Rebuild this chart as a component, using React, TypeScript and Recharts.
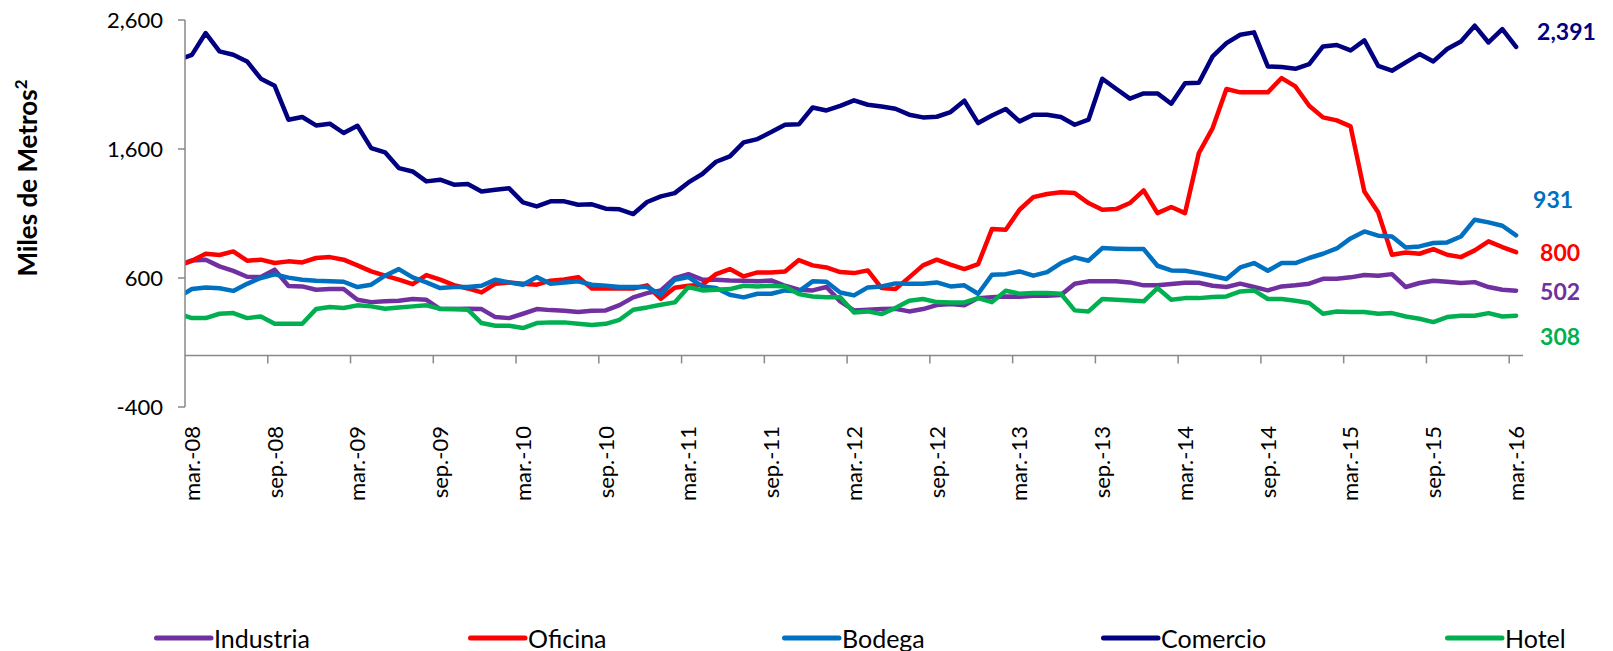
import React from "react";
import { LineChart, Line, XAxis, YAxis, ReferenceLine, Legend, LabelList } from "recharts";

const categories = [
  "feb.-08", "mar.-08", "abr.-08", "may.-08", "jun.-08", "jul.-08", "ago.-08", "sep.-08", "oct.-08", "nov.-08", "dic.-08",
  "ene.-09", "feb.-09", "mar.-09", "abr.-09", "may.-09", "jun.-09", "jul.-09", "ago.-09", "sep.-09", "oct.-09", "nov.-09", "dic.-09",
  "ene.-10", "feb.-10", "mar.-10", "abr.-10", "may.-10", "jun.-10", "jul.-10", "ago.-10", "sep.-10", "oct.-10", "nov.-10", "dic.-10",
  "ene.-11", "feb.-11", "mar.-11", "abr.-11", "may.-11", "jun.-11", "jul.-11", "ago.-11", "sep.-11", "oct.-11", "nov.-11", "dic.-11",
  "ene.-12", "feb.-12", "mar.-12", "abr.-12", "may.-12", "jun.-12", "jul.-12", "ago.-12", "sep.-12", "oct.-12", "nov.-12", "dic.-12",
  "ene.-13", "feb.-13", "mar.-13", "abr.-13", "may.-13", "jun.-13", "jul.-13", "ago.-13", "sep.-13", "oct.-13", "nov.-13", "dic.-13",
  "ene.-14", "feb.-14", "mar.-14", "abr.-14", "may.-14", "jun.-14", "jul.-14", "ago.-14", "sep.-14", "oct.-14", "nov.-14", "dic.-14",
  "ene.-15", "feb.-15", "mar.-15", "abr.-15", "may.-15", "jun.-15", "jul.-15", "ago.-15", "sep.-15", "oct.-15", "nov.-15", "dic.-15",
  "ene.-16", "feb.-16", "mar.-16",
];

// values start at feb.-08 (clipped before the axis), then mar.-08 ... mar.-16
const industria = [
  700, 736, 742, 690, 655, 610, 607, 665, 538, 535, 509, 514, 514, 431, 413, 419, 424, 437, 431, 359,
  359, 362, 359, 297, 289, 323, 359, 351, 346, 336, 346, 349, 390, 450, 483, 504, 599, 630, 587, 587,
  581, 579, 574, 581, 540, 509, 504, 530, 419, 349, 354, 359, 362, 341, 359, 390, 398, 388, 444, 450,
  457, 455, 463, 463, 468, 556, 574, 574, 574, 566, 543, 543, 553, 563, 563, 540, 530, 556, 530, 504,
  535, 543, 556, 594, 594, 605, 623, 618, 630, 530, 561, 579, 571, 561, 568, 530, 509, 502,
];
const oficina = [
  695, 733, 788, 778, 806, 734, 742, 716, 729, 721, 755, 762, 742, 698, 651, 618, 587, 552, 623, 587,
  545, 519, 488, 556, 566, 556, 548, 579, 589, 607, 519, 519, 519, 519, 543, 439, 525, 540, 548, 630,
  669, 612, 643, 643, 651, 739, 698, 682, 646, 638, 659, 522, 514, 605, 698, 742, 703, 669, 708, 979,
  974, 1129, 1227, 1251, 1264, 1258, 1181, 1129, 1134, 1181, 1279, 1103, 1150, 1103, 1568, 1762, 2065, 2039, 2039, 2039,
  2150, 2085, 1935, 1845, 1822, 1775, 1271, 1109, 780, 798, 788, 824, 780, 762, 814, 884, 840, 800,
];
const bodega = [
  450, 515, 526, 520, 500, 555, 600, 628, 603, 587, 579, 574, 571, 530, 548, 618, 669, 605, 566, 522,
  530, 530, 540, 587, 566, 548, 607, 556, 566, 574, 548, 540, 530, 530, 530, 470, 587, 607, 535, 522,
  470, 450, 478, 478, 504, 496, 574, 571, 488, 465, 527, 535, 558, 556, 556, 566, 535, 543, 478, 625,
  630, 651, 618, 646, 716, 760, 734, 832, 827, 824, 824, 695, 659, 656, 638, 615, 592, 682, 716, 656,
  716, 716, 755, 788, 829, 907, 961, 928, 922, 837, 845, 871, 876, 922, 1052, 1031, 1005, 931,
];
const comercio = [
  2290, 2330, 2499, 2357, 2331, 2279, 2145, 2090, 1827, 1848, 1783, 1796, 1724, 1780, 1607, 1574, 1452, 1426, 1349, 1362,
  1323, 1328, 1271, 1284, 1295, 1186, 1155, 1194, 1194, 1168, 1171, 1137, 1132, 1096, 1189, 1233, 1258, 1341, 1406, 1501,
  1543, 1651, 1677, 1731, 1788, 1791, 1922, 1899, 1935, 1977, 1943, 1930, 1912, 1866, 1845, 1850, 1886, 1974, 1801, 1860,
  1910, 1814, 1866, 1866, 1848, 1788, 1827, 2145, 2067, 1990, 2031, 2031, 1951, 2109, 2114, 2318, 2421, 2486, 2504, 2240,
  2235, 2222, 2258, 2395, 2406, 2364, 2442, 2245, 2207, 2271, 2336, 2279, 2375, 2434, 2556, 2426, 2530, 2391,
];
const hotel = [
  325, 289, 289, 323, 328, 289, 302, 245, 245, 245, 359, 375, 367, 388, 380, 362, 372, 380, 388, 362,
  359, 354, 251, 230, 230, 212, 251, 256, 256, 245, 235, 245, 276, 354, 372, 393, 411, 530, 504, 509,
  514, 540, 535, 540, 535, 475, 457, 450, 450, 333, 341, 320, 367, 424, 437, 413, 411, 411, 444, 413,
  501, 478, 483, 483, 478, 349, 341, 437, 431, 426, 419, 522, 431, 444, 444, 452, 457, 496, 504, 437,
  437, 424, 406, 323, 341, 336, 336, 323, 328, 302, 284, 258, 297, 307, 307, 328, 302, 308,
];

const xTickIndices = [0, 6, 12, 18, 24, 30, 36, 42, 48, 54, 60, 66, 72, 78, 84, 90, 96];
const yTicks = [-400, 600, 1600, 2600];

const series = [
  { key: "Industria", values: industria, color: "#7030A0" },
  { key: "Oficina", values: oficina, color: "#FF0000" },
  { key: "Bodega", values: bodega, color: "#0070C0" },
  { key: "Comercio", values: comercio, color: "#000080" },
  { key: "Hotel", values: hotel, color: "#00B050" },
];

// layout-only tables (offsets of end labels, legend item widths)
const endLabelOffset: Record<string, { dx: number; dy: number }> = {
  Industria: { dx: 24, dy: 1.5 },
  Oficina: { dx: 24, dy: 1 },
  Bodega: { dx: 17, dy: -36 },
  Comercio: { dx: 21, dy: -15.5 },
  Hotel: { dx: 24, dy: 21 },
};
const legendItemWidths = [314, 314, 319, 344, 160];

const data = categories.map((label, k) => {
  const row: Record<string, number | string> = { i: k - 1, label };
  series.forEach((s) => {
    row[s.key] = s.values[k];
  });
  return row;
});

const lastIndex = data.length - 1;
const FONT = "Lato, 'Liberation Sans', sans-serif";
const AXIS_GRAY = "#898989";

const catLabel = (v: number) => categories[v + 1] ?? "";

const XTick = (props: any) => {
  const { x, y, payload } = props;
  return (
    <g transform={`translate(${x},${y})`}>
      <text
        transform="rotate(-90)"
        x={-19}
        y={0}
        dy="0.36em"
        textAnchor="end"
        fill="#000"
        fontSize={22}
        fontFamily={FONT}
      >
        {catLabel(payload.value)}
      </text>
    </g>
  );
};

const YTitle = (props: any) => {
  const vb = props.viewBox || { x: 0, y: 0 };
  const cx = vb.x + 29;
  const cy = vb.y + 158;
  return (
    <text
      x={cx}
      y={cy}
      transform={`rotate(-90, ${cx}, ${cy})`}
      textAnchor="middle"
      fontSize={26}
      fontWeight="bold"
      fill="#000"
      fontFamily={FONT}
    >
      Miles de Metros
      <tspan dy={-10} fontSize={17}>2</tspan>
    </text>
  );
};

const makeEndLabel = (key: string, color: string) => (props: any) => {
  const { index, value } = props;
  if (index !== lastIndex) return null;
  const x = props.x ?? props.viewBox?.x;
  const y = props.y ?? props.viewBox?.y;
  const off = endLabelOffset[key];
  return (
    <text
      x={x + off.dx}
      y={y + off.dy}
      dy="0.36em"
      textAnchor="start"
      fontSize={23}
      fontWeight="bold"
      fill={color}
      fontFamily={FONT}
    >
      {Number(value).toLocaleString("en-US")}
    </text>
  );
};

const renderLegend = () => (
  <div
    style={{
      display: "flex",
      alignItems: "center",
      height: 30,
      paddingLeft: 146,
      fontFamily: FONT,
      fontSize: 25,
      color: "#000",
    }}
  >
    {series.map((s, n) => (
      <div key={s.key} style={{ display: "flex", alignItems: "center", width: legendItemWidths[n] }}>
        <svg width={60} height={10} style={{ display: "block" }}>
          <line x1={2.5} y1={5} x2={57} y2={5} stroke={s.color} strokeWidth={5} strokeLinecap="round" />
        </svg>
        <span style={{ marginLeft: 0, lineHeight: "30px" }}>{s.key}</span>
      </div>
    ))}
  </div>
);

export default function App() {
  return (
    <div style={{ width: 1597, height: 651, marginTop: -8, fontFamily: FONT }}>
      <LineChart
        width={1597}
        height={651}
        data={data}
        margin={{ top: 20, right: 82, bottom: 0, left: 0 }}
      >
        <XAxis
          type="number"
          dataKey="i"
          domain={[-0.5, 96.5]}
          allowDataOverflow
          ticks={xTickIndices}
          interval={0}
          axisLine={false}
          tickLine={false}
          tickSize={0}
          tickMargin={0}
          height={244}
          tick={<XTick />}
        />
        <YAxis
          type="number"
          domain={[-400, 2600]}
          ticks={yTicks}
          interval={0}
          width={177}
          axisLine={{ stroke: AXIS_GRAY, strokeWidth: 1.5 }}
          tickLine={{ stroke: AXIS_GRAY, strokeWidth: 1.5 }}
          tickSize={7}
          tickMargin={15}
          tick={{ fill: "#000", fontSize: 22, fontFamily: FONT }}
          tickFormatter={(v: number) => v.toLocaleString("en-US")}
          label={{ content: <YTitle /> }}
        />
        <ReferenceLine y={0} stroke={AXIS_GRAY} strokeWidth={1.5} />
        {xTickIndices.slice(1).map((t) => (
          <ReferenceLine
            key={`tm-${t}`}
            segment={[
              { x: t - 0.5, y: 0 },
              { x: t - 0.5, y: -62 },
            ]}
            stroke={AXIS_GRAY}
            strokeWidth={1.5}
          />
        ))}
        {series.map((s) => (
          <Line
            key={s.key}
            type="linear"
            dataKey={s.key}
            stroke={s.color}
            strokeWidth={4.5}
            strokeLinejoin="round"
            strokeLinecap="round"
            dot={false}
            activeDot={false}
            isAnimationActive={false}
          >
            <LabelList dataKey={s.key} content={makeEndLabel(s.key, s.color)} />
          </Line>
        ))}
        <Legend
          layout="horizontal"
          verticalAlign="middle"
          align="center"
          content={renderLegend}
          wrapperStyle={{ top: 623, left: 0, width: 1597, height: 30 }}
        />
      </LineChart>
    </div>
  );
}
